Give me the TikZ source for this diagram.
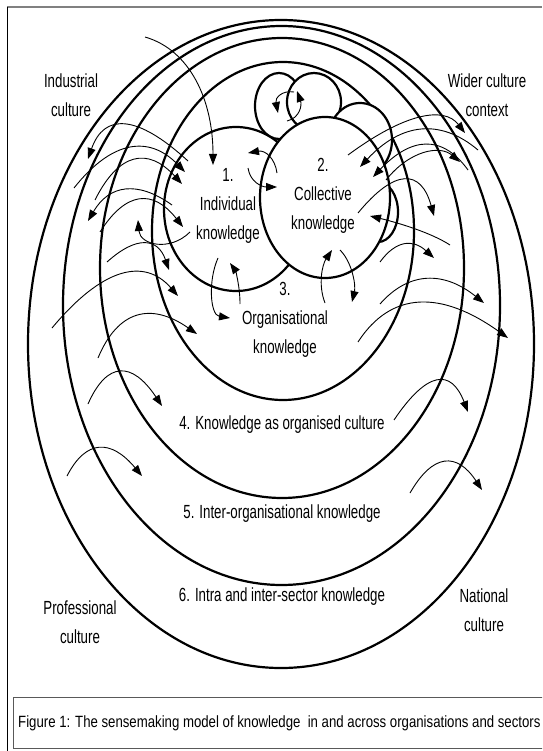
\documentclass[tikz,border=0pt]{standalone}
\usepackage{fontspec}
\setmainfont[FakeStretch=0.81]{Liberation Sans}
\newfontfamily\lblfont[FakeStretch=0.70]{Liberation Sans}
\usetikzlibrary{arrows.meta}

\begin{document}
\begin{tikzpicture}[x=1pt,y=-1pt,
    ring/.style={line width=2.2pt},
    bubble/.style={line width=2.2pt,fill=white},
    flow/.style={line width=0.9pt,-{Triangle[length=11pt,width=8pt]}},
    lbl/.style={align=center,font=\lblfont\fontsize{19}{29}\selectfont,inner sep=0pt}]
    \useasboundingbox (0,0) rectangle (542,751);
    \clip (0,0) rectangle (542,751);
    \draw[gray,line width=2pt] (7,7.5) -- (542,7.5);
    \draw[line width=1pt] (7.5,7) -- (7.5,751);
    \draw[gray!70!black,line width=1pt] (13.5,697.5) rectangle (560,748);

    \draw[ring] (281,344) ellipse [x radius=253,y radius=324];
    \draw[ring] (281.5,305.5) ellipse [x radius=218.5,y radius=279.5];
    \draw[ring] (282,268) ellipse [x radius=182,y radius=230];
    \draw[ring] (283,231) ellipse [x radius=131,y radius=169];

    \draw[bubble] (279,106) ellipse [x radius=24,y radius=33];
    \draw[bubble] (314,102) ellipse [x radius=27,y radius=29];
    \draw[bubble] (360,140) ellipse [x radius=32,y radius=37];
    \draw[bubble] (378,212) ellipse [x radius=20,y radius=30];
    \draw[bubble] (236,209) ellipse [x radius=72,y radius=82];
    \draw[bubble] (325,197.5) ellipse [x radius=65,y radius=80.5];

    \draw[flow] (145,37) .. controls (190,50) and (213,100) .. (213,165);
    \draw[flow] (188,161) .. controls (137,114) and (104,113) .. (88,159);
    \draw[flow] (74,188) .. controls (112,140) and (149,135) .. (185,172);
    \draw[flow] (95,200) .. controls (119,152) and (148,147) .. (182,184);
    \draw[flow] (172,205) .. controls (137,180) and (109,185) .. (88,221);
    \draw[flow] (100,232) .. controls (126,191) and (153,189) .. (183,227);
    \draw[flow] (190,232) .. controls (170,252) and (140,245) .. (138,220);
    \draw[flow] (107,262) .. controls (137,235) and (158,238) .. (169,270);
    \draw[flow] (52,328) .. controls (102,268) and (144,257) .. (178,296);
    \draw[flow] (98,358) .. controls (118,310) and (151,302) .. (197,334);
    \draw[flow] (88,404) .. controls (107,361) and (132,361) .. (162,406);
    \draw[flow] (67,476) .. controls (86,439) and (111,439) .. (142,476);

    \draw[flow] (287,121) .. controls (300,118) and (302,105) .. (297,91);
    \draw[flow] (294,92) .. controls (282,90) and (275,98) .. (278,113);
    \draw[flow] (277,173) .. controls (275,158) and (265,150) .. (248,153);
    \draw[flow] (248,168) .. controls (250,182) and (262,187) .. (277,187);
    \draw[flow] (218,258) .. controls (208,280) and (210,315) .. (230,318);
    \draw[flow] (240,304) .. controls (240,285) and (235,270) .. (230,263);
    \draw[flow] (325,303) .. controls (318,285) and (322,265) .. (332,250);
    \draw[flow] (340,250) .. controls (352,262) and (356,285) .. (352,302);

    \draw[flow] (348,155) .. controls (405,113) and (444,106) .. (465,133);
    \draw[flow] (478,150) .. controls (440,118) and (401,123) .. (360,167);
    \draw[flow] (468,170) .. controls (442,134) and (411,137) .. (373,177);
    \draw[flow] (386,180) .. controls (410,150) and (440,145) .. (460,162);
    \draw[flow] (358,213) .. controls (395,168) and (421,169) .. (434,216);
    \draw[flow] (450,245) .. controls (430,232) and (395,222) .. (370,216);
    \draw[flow] (380,262) .. controls (396,240) and (413,239) .. (434,258);
    \draw[flow] (380,304) .. controls (409,271) and (444,271) .. (484,303);
    \draw[flow] (358,342) .. controls (391,291) and (441,290) .. (508,338);
    \draw[flow] (394,420) .. controls (427,371) and (451,368) .. (468,412);
    \draw[flow] (410,493) .. controls (433,453) and (457,452) .. (482,490);

    \node[lbl] (indcult) at (71,95) {Industrial\\culture};
    \node[lbl] (widcult) at (487,95) {Wider culture\\context};
    \node[lbl] (indiv) at (228,206) {1.\\Individual\\knowledge};
    \node[lbl] (coll) at (323,196) {2.\\Collective\\knowledge};
    \node[lbl] (orgk) at (285,320) {3.\\Organisational\\knowledge};
    \node[lbl] (orgcult) at (282,425) {4. Knowledge as organised culture};
    \node[lbl] (interorg) at (282,514) {5. Inter-organisational knowledge};
    \node[lbl] (sector) at (282,597) {6. Intra and inter-sector knowledge};
    \node[lbl] (profcult) at (80,622) {Professional\\culture};
    \node[lbl] (natcult) at (484,610) {National\\culture};
    \node[lbl,anchor=west,font=\fontsize{16.3}{18}\selectfont] (caption) at (18,723)
        {Figure 1: The sensemaking model of knowledge\ \ in and across organisations and sectors};
\end{tikzpicture}
\end{document}
